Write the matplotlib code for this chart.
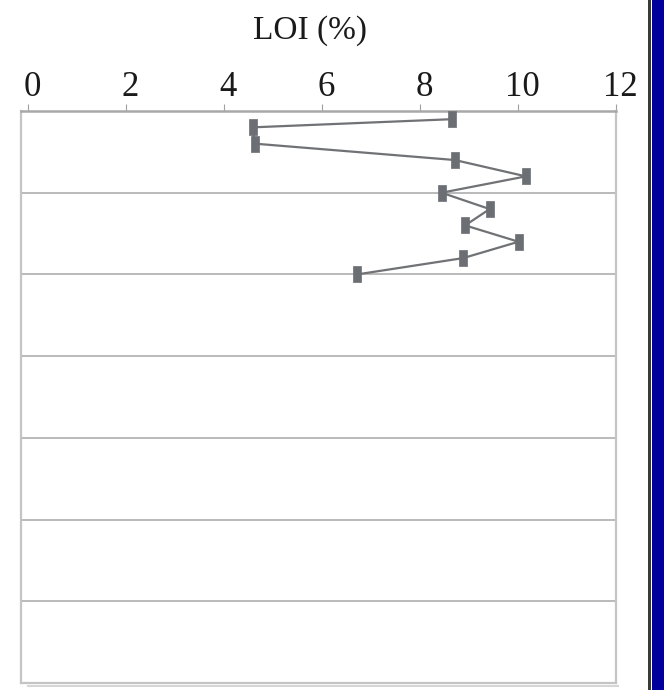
"""LOI depth profile, redrawn with matplotlib."""

import matplotlib

matplotlib.use("Agg")
import matplotlib.pyplot as plt
import matplotlib.transforms as mtransforms
from matplotlib.patches import Rectangle
from matplotlib.lines import Line2D

plt.rcParams["font.family"] = ["Liberation Serif", "DejaVu Serif"]

# data
depth = [1, 2, 4, 6, 8, 10, 12, 14, 16, 18, 20]
loi = [8.66, 4.58, 4.63, 8.71, 10.16, 8.44, 9.42, 8.92, 10.01, 8.88, 6.71]
x_ticks = [0, 2, 4, 6, 8, 10, 12]
depth_grid = [10, 20, 30, 40, 50, 60]
x_label = "LOI (%)"

W, H = 664, 690
fig = plt.figure(figsize=(W / 100, H / 100), dpi=100)
fig.patch.set_facecolor("white")

# axes box in pixels: left 21, right 616, top 111, bottom 683
left, right, top, bottom = 21, 616, 111, 683
ax = fig.add_axes([left / W, (H - bottom) / H, (right - left) / W, (bottom - top) / H])
ax.set_xlim(-0.149, 12)
ax.set_ylim(70, 0)

# rectangular marker, taller than wide
bar_marker = [(-0.27, -0.5), (0.27, -0.5), (0.27, 0.5), (-0.27, 0.5), (-0.27, -0.5)]
ax.plot(loi, depth, color="#707275", lw=1.6, zorder=3,
        marker=bar_marker, markersize=11.5, markerfacecolor="#6b6f74",
        markeredgecolor="#6b6f74", markeredgewidth=0.5)

for d in depth_grid:
    ax.axhline(d, color="#b4b4b4", lw=1.3, zorder=1)

for side in ("left", "right", "bottom"):
    ax.spines[side].set_color("#c4c4c4")
    ax.spines[side].set_linewidth(1.6)
ax.spines["top"].set_color("#a8a8a8")
ax.spines["top"].set_linewidth(1.8)

ax.xaxis.tick_top()
ax.set_xticks(x_ticks)
ax.tick_params(axis="x", direction="out", length=5, width=0.8, color="#a0a0a0",
               labelsize=25, pad=0, labelcolor="#1a1a1a")
offset = mtransforms.ScaledTranslation(4 / 100, 0, fig.dpi_scale_trans)
for lbl in ax.get_xticklabels():
    lbl.set_transform(lbl.get_transform() + offset)
ax.set_yticks([])

fig.text(310 / W, 1 - 31 / H, x_label, fontsize=24, ha="center", va="center",
         color="#1a1a1a")

# soft shadow under the box
fig.add_artist(Line2D([28 / W, 618 / W], [(H - 686) / H] * 2, color="#d6d6d6",
                      lw=1.5, transform=fig.transFigure))

# dark frame on the right edge
fig.add_artist(Rectangle((648 / W, 0), 3 / W, 1, transform=fig.transFigure,
                         color="#3a3a3a", lw=0))
fig.add_artist(Rectangle((652 / W, 0), 12 / W, 1, transform=fig.transFigure,
                         color="#00009c", lw=0))

fig.savefig("out.png", dpi=100)
plt.close(fig)
